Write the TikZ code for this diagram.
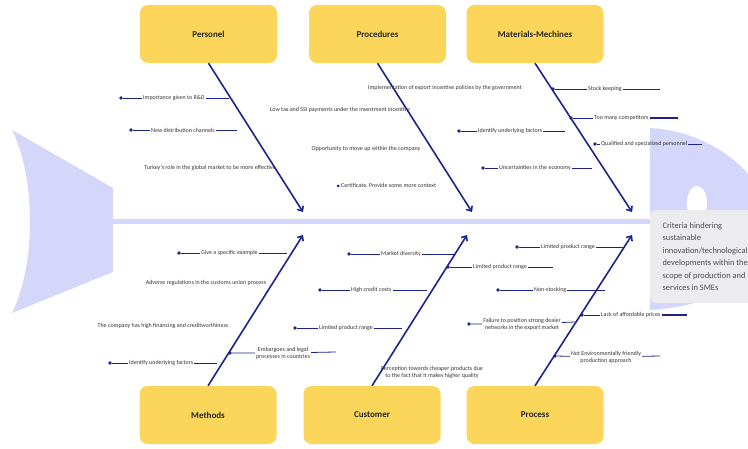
\documentclass[tikz,border=0pt]{standalone}
\usepackage{fontspec}
\setmainfont{Carlito}
\usetikzlibrary{arrows.meta}
\definecolor{navy}{RGB}{28,36,140}
\definecolor{boxyellow}{RGB}{252,214,90}
\definecolor{fishbody}{RGB}{212,214,250}
\definecolor{headgray}{RGB}{236,236,238}

\begin{document}
\begin{tikzpicture}[x=1pt, y=-1pt,
  box/.style={rectangle, rounded corners=8pt, fill=boxyellow, minimum width=137pt, minimum height=58pt, font=\bfseries\fontsize{9}{11}\selectfont, text=black!85},
  bone/.style={navy, line width=1.6pt, -{Straight Barb[length=4pt,width=7pt]}},
  twig/.style={navy, line width=0.8pt},
  dot/.style={circle, fill=navy, inner sep=0pt, minimum size=3.6pt},
  cause/.style={font=\fontsize{6}{7}\selectfont, text=black!80, inner sep=1pt, align=center}]
  \path[use as bounding box, clip] (0,0) rectangle (748,449);

  % Fish body
  \fill[fishbody] (12,130) -- (113,188) -- (113,272) -- (12,313)
    .. controls (36,265) and (36,178) .. (12,130);
  \fill[fishbody] (650,128) .. controls (690,130) and (735,150) .. (760,190) -- (760,260)
    .. controls (735,295) and (690,308) .. (650,310) -- cycle;
  \fill[white] (697,203) ellipse (10 and 17);
  \coordinate (tail) at (113,222);
  \coordinate (neck) at (650,222);
  \draw[fishbody, line width=5pt] (tail) -- (neck);

  % Effect
  \node[anchor=north west, fill=headgray, rounded corners=6pt, minimum width=110pt, minimum height=93pt, inner sep=3pt, align=left, text=black!70, font=\fontsize{8.4}{12.5}\selectfont] (effect) at (650,210)
    {Criteria hindering\\sustainable\\innovation/technological\\developments within the\\scope of production and\\services in SMEs};

  % Categories
  \node[box] (personel) at (208.5,34) {Personel};
  \node[box] (procedures) at (377.5,34) {Procedures};
  \node[box] (materials) at (535,34) {Materials-Mechines};
  \node[box] (methods) at (208,415) {Methods};
  \node[box] (customer) at (372,415) {Customer};
  \node[box] (process) at (535,415) {Process};

  % Bones
  \coordinate (tipA) at (303,212);
  \coordinate (tipB) at (472,212);
  \coordinate (tipC) at (632,212);
  \coordinate (tipD) at (303,235);
  \coordinate (tipE) at (467,235);
  \coordinate (tipF) at (632,235);
  \draw[bone] (personel.south) -- (tipA);
  \draw[bone] (procedures.south) -- (tipB);
  \draw[bone] (materials.south) -- (tipC);
  \draw[bone] (methods.north) -- (tipD);
  \draw[bone] (customer.north) -- (tipE);
  \draw[bone] (process.north) -- (tipF);

  % Personel
  \node[dot] (pd1) at (121,98) {};
  \node[cause, anchor=west] (pc1) at (142,98) {Importance given to R\&D};
  \coordinate (pe1) at (229,98);
  \draw[twig] (pd1) -- (pc1) -- (pe1);
  \node[dot] (pd2) at (131,130) {};
  \node[cause, anchor=west] (pc2) at (150,130) {New distribution channels};
  \coordinate (pe2) at (237,130);
  \draw[twig] (pd2) -- (pc2) -- (pe2);
  \node[cause] (pc3) at (210,168) {Turkey's role in the global market to be more effective};

  % Procedures
  \node[cause] (rc1) at (445,88) {Implementation of export incentive policies by the government};
  \node[cause] (rc2) at (340,110) {Low tax and SSI payments under the investment incentive};
  \node[cause] (rc3) at (366,149) {Opportunity to move up within the company};
  \node[dot, minimum size=3pt] (rd4) at (338,186) {};
  \node[cause, anchor=west] (rc4) at (340,186) {Certificate, Provide some more context};

  % Materials-Mechines
  \node[dot] (md1) at (553,89) {};
  \node[cause, anchor=west] (mc1) at (587,89) {Stock keeping};
  \coordinate (me1) at (660,89);
  \draw[twig] (md1) -- (mc1) -- (me1);
  \node[dot] (md2) at (571,118) {};
  \node[cause, anchor=west] (mc2) at (593,118) {Too many competitors};
  \coordinate (me2) at (678,118);
  \draw[twig] (md2) -- (mc2);
  \draw[navy, line width=1.4pt] (mc2) -- (me2);
  \node[dot] (md3) at (595,144) {};
  \node[cause, anchor=west] (mc3) at (600,144) {Qualified and specialized personnel};
  \coordinate (me3) at (702,144);
  \draw[twig] (md3) -- (mc3) -- (me3);
  \node[dot] (md4) at (459,131) {};
  \node[cause, anchor=west] (mc4) at (477,131) {Identify underlying factors};
  \coordinate (me4) at (565,131);
  \draw[twig] (md4) -- (mc4) -- (me4);
  \node[dot] (md5) at (483,168) {};
  \node[cause, anchor=west] (mc5) at (498,168) {Uncertainties in the economy};
  \coordinate (me5) at (592,168);
  \draw[twig] (md5) -- (mc5) -- (me5);

  % Methods
  \node[dot] (td1) at (179,253) {};
  \node[cause, anchor=west] (tc1) at (200,253) {Give a specific example};
  \coordinate (te1) at (287,253);
  \draw[twig] (td1) -- (tc1) -- (te1);
  \node[cause] (tc2) at (206,283) {Adverse regulations in the customs union process};
  \node[cause] (tc3) at (163,326) {The company has high financing and creditworthiness};
  \node[dot] (td4) at (110,363) {};
  \node[cause, anchor=west] (tc4) at (128,363) {Identify underlying factors};
  \coordinate (te4) at (217,363);
  \draw[twig] (td4) -- (tc4) -- (te4);
  \node[dot] (td5) at (230,353) {};
  \node[cause] (tc5) at (283,353) {Embargoes and legal\\processes in countries};
  \coordinate (te5) at (336,352);
  \draw[twig] (td5) -- (tc5) -- (te5);

  % Customer
  \node[dot] (cd1) at (349,254) {};
  \node[cause, anchor=west] (cc1) at (380,254) {Market diversity};
  \coordinate (ce1) at (455,254);
  \draw[twig] (cd1) -- (cc1) -- (ce1);
  \node[dot] (cd2) at (320,290) {};
  \node[cause, anchor=west] (cc2) at (350,290) {High credit costs};
  \coordinate (ce2) at (427,290);
  \draw[twig] (cd2) -- (cc2) -- (ce2);
  \node[dot] (cd3) at (295,328) {};
  \node[cause, anchor=west] (cc3) at (318,328) {Limited product range};
  \coordinate (ce3) at (402,328);
  \draw[twig] (cd3) -- (cc3) -- (ce3);
  \node[cause] (cc4) at (432,372) {Perception towards cheaper products due\\to the fact that it makes higher quality};
  \node[dot] (cd5) at (448,267) {};
  \node[cause, anchor=west] (cc5) at (472,267) {Limited product range};
  \coordinate (ce5) at (553,267);
  \draw[twig] (cd5) -- (cc5) -- (ce5);

  % Process
  \node[dot] (sd1) at (517,247) {};
  \node[cause, anchor=west] (sc1) at (540,247) {Limited product range};
  \coordinate (se1) at (623,247);
  \draw[twig] (sd1) -- (sc1) -- (se1);
  \node[dot] (sd2) at (498,290) {};
  \node[cause, anchor=west] (sc2) at (533,290) {Non-stocking};
  \coordinate (se2) at (605,290);
  \draw[twig] (sd2) -- (sc2) -- (se2);
  \node[dot] (sd3) at (469,324) {};
  \node[cause] (sc3) at (522,324) {Failure to position strong dealer\\networks in the export market};
  \coordinate (se3) at (575,322);
  \draw[twig] (sd3) -- (sc3) -- (se3);
  \node[dot] (sd4) at (582,315) {};
  \node[cause, anchor=west] (sc4) at (600,315) {Lack of affordable prices};
  \coordinate (se4) at (687,315);
  \draw[twig] (sd4) -- (sc4);
  \draw[navy, line width=1.4pt] (sc4) -- (se4);
  \node[dot] (sd5) at (555,356) {};
  \node[cause] (sc5) at (606,357) {Not Environmentally friendly\\production approach};
  \coordinate (se5) at (660,356);
  \draw[twig] (sd5) -- (sc5) -- (se5);
\end{tikzpicture}
\end{document}
